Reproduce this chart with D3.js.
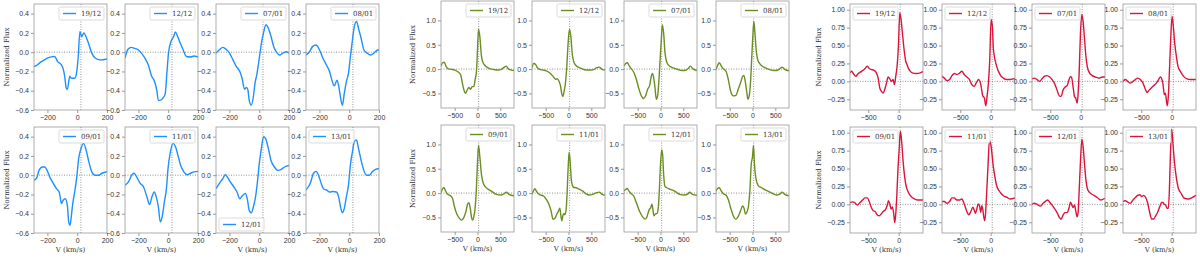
<!DOCTYPE html>
<html>
<head>
<meta charset="utf-8">
<script src="https://cdn.jsdelivr.net/npm/d3@7"></script>
<style>
  body { margin: 0; background: #fff; }
  svg { display: block; font-family: "DejaVu Serif", serif; }
  .tick text { fill: #333; font-size: 7px; }
  .domain, .tick line { stroke: #999; }
  .ylab, .xlab { fill: #333; font-size: 7px; }
  .leg text { fill: #333; font-size: 7px; }
</style>
</head>
<body>
<div id="chart"></div>
<script>
// panel order: top row then bottom row
const dates = ["19/12", "12/12", "07/01", "08/01", "09/01", "11/01", "12/01", "13/01"];

// ---- blue group ----
const blueVel = [
  [-290,-266,-243,-220,-198,-152,-130,-107,-95,-84,-73,-66,-50,-39,-16,-5,7,18,30,45,59,75,98,120,155,200],
  [-290,-270,-248,-225,-202,-180,-157,-134,-111,-95,-77,-66,-55,-32,-20,-9,2,18,36,48,64,82,100,123,150,173,200],
  [-290,-267,-244,-222,-199,-176,-153,-130,-115,-99,-85,-76,-67,-53,-39,-28,-17,-1,15,29,45,61,79,97,116,136,159,182,200],
  [-290,-267,-245,-222,-200,-177,-154,-132,-116,-100,-82,-69,-55,-46,-33,-19,-5,8,22,35,49,65,80,98,121,144,166,189,200],
  [-290,-274,-256,-234,-218,-202,-184,-161,-139,-121,-105,-94,-80,-66,-57,-48,-39,-30,-17,-3,10,26,42,60,78,98,121,144,166,200],
  [-290,-267,-245,-229,-211,-188,-166,-143,-125,-109,-94,-80,-66,-53,-39,-26,-12,-1,15,33,49,65,83,105,128,150,173,200],
  [-290,-267,-244,-228,-213,-194,-171,-149,-130,-115,-92,-80,-67,-53,-39,-23,-12,2,15,29,43,61,79,102,125,148,170,200],
  [-290,-274,-258,-240,-222,-206,-188,-173,-150,-132,-109,-87,-71,-60,-46,-33,-19,-5,8,22,35,49,62,80,98,116,134,155,177,200]
];
const blueFlux = [
  [-0.15,-0.13,-0.10,-0.08,-0.06,-0.045,-0.10,-0.13,-0.17,-0.25,-0.375,-0.385,-0.25,-0.27,-0.27,-0.22,-0.045,0.215,0.16,0.20,0.16,0.095,-0.01,-0.06,-0.08,-0.07],
  [-0.06,0.03,0.05,0.04,0.025,-0.01,-0.06,-0.13,-0.25,-0.29,-0.39,-0.50,-0.50,-0.47,-0.43,-0.22,-0.01,0.11,0.16,0.21,0.16,0.09,0.025,-0.045,-0.05,-0.04,-0.05],
  [-0.01,0.025,0.05,0.03,-0.01,-0.08,-0.15,-0.2,-0.27,-0.385,-0.365,-0.39,-0.50,-0.55,-0.46,-0.32,-0.24,-0.08,0.095,0.2,0.285,0.25,0.165,0.06,0.0,-0.03,-0.01,0.005,-0.01],
  [-0.03,0.005,0.06,0.075,0.025,-0.06,-0.13,-0.2,-0.29,-0.35,-0.29,-0.365,-0.50,-0.55,-0.43,-0.305,-0.22,-0.045,0.13,0.27,0.32,0.23,0.145,0.025,-0.01,-0.03,-0.01,0.02,0.025],
  [-0.05,-0.035,0.05,0.085,0.085,0.05,-0.02,-0.085,-0.14,-0.175,-0.295,-0.26,-0.245,-0.315,-0.485,-0.52,-0.42,-0.295,-0.175,-0.02,0.175,0.28,0.33,0.26,0.14,0.035,0.0,0.0,0.02,0.035],
  [-0.105,-0.07,0.0,0.02,-0.02,-0.085,-0.12,-0.225,-0.305,-0.225,-0.175,-0.225,-0.33,-0.485,-0.42,-0.28,-0.14,0.07,0.245,0.33,0.295,0.21,0.105,0.035,0.005,0.02,0.035,0.04],
  [-0.14,-0.085,-0.035,0.005,-0.02,-0.07,-0.12,-0.175,-0.245,-0.215,-0.19,-0.245,-0.365,-0.39,-0.33,-0.21,-0.07,0.14,0.28,0.4,0.38,0.28,0.155,0.085,0.05,0.06,0.085,0.1],
  [-0.155,-0.12,-0.07,0.02,0.04,0.0,-0.085,-0.14,-0.155,-0.175,-0.17,-0.175,-0.225,-0.315,-0.39,-0.345,-0.225,-0.105,0.105,0.245,0.35,0.365,0.28,0.155,0.05,0.0,0.0,0.035,0.06,0.07]
];
const blueXTicks = [-200, 0, 200];
const blueYTicks = [-0.6, -0.4, -0.2, 0, 0.2, 0.4];

// ---- green group ----
const greenVel = [
  [-800,-764,-727,-691,-640,-567,-495,-422,-371,-327,-291,-262,-226,-189,-153,-117,-80,-51,-22,0,22,51,87,123,182,254,341,451,523,574,633,676,741,800],
  [-800,-764,-720,-684,-633,-560,-487,-415,-342,-284,-247,-211,-175,-146,-124,-95,-66,-37,-8,22,51,80,123,181,276,385,494,567,618,676,734,800],
  [-800,-764,-727,-691,-639,-588,-530,-471,-420,-369,-326,-282,-238,-201,-179,-150,-121,-92,-63,-33,-4,18,40,69,98,142,200,310,419,529,602,653,712,800],
  [-800,-764,-727,-691,-640,-582,-531,-480,-422,-364,-313,-262,-218,-189,-160,-124,-102,-73,-44,-15,7,29,51,80,123,196,305,414,523,596,647,705,800],
  [-800,-764,-735,-698,-655,-604,-546,-509,-458,-400,-349,-298,-255,-218,-189,-160,-131,-109,-80,-51,-29,-8,22,51,87,138,211,305,414,523,596,632,690,800],
  [-800,-764,-735,-705,-647,-596,-545,-487,-429,-378,-342,-298,-255,-218,-189,-167,-146,-124,-102,-80,-51,-29,-8,14,36,65,109,167,240,312,385,458,530,603,676,734,800],
  [-800,-764,-727,-691,-639,-588,-530,-457,-384,-333,-296,-252,-216,-187,-165,-143,-114,-77,-48,-26,-4,25,47,69,98,142,215,310,419,529,602,638,697,800],
  [-800,-764,-727,-691,-640,-582,-531,-480,-422,-364,-306,-262,-218,-189,-153,-117,-88,-58,-29,0,22,44,73,123,196,305,414,523,596,647,705,800]
];
const greenFlux = [
  [0.06,0.13,0.14,0.06,0.005,-0.005,-0.02,-0.06,-0.11,-0.31,-0.45,-0.50,-0.43,-0.38,-0.415,-0.36,-0.36,-0.21,-0.04,0.40,0.82,0.67,0.265,0.13,0.06,0.015,-0.005,-0.02,-0.005,0.03,0.06,0.005,-0.02,-0.03],
  [0.03,0.115,0.095,0.03,-0.005,-0.02,-0.035,-0.075,-0.145,-0.21,-0.2,-0.245,-0.345,-0.515,-0.565,-0.45,-0.28,0.06,0.54,0.82,0.67,0.335,0.13,0.06,0.015,-0.02,-0.02,-0.005,0.03,0.04,-0.005,-0.02],
  [0.06,0.115,0.13,0.075,0.005,-0.06,-0.21,-0.415,-0.55,-0.605,-0.55,-0.415,-0.335,-0.145,-0.09,-0.175,-0.38,-0.62,-0.55,-0.21,0.265,0.605,0.91,0.74,0.335,0.13,0.06,0.015,-0.02,-0.03,0.005,0.06,0.005,-0.03],
  [-0.005,0.075,0.13,0.075,0.005,-0.04,-0.21,-0.45,-0.55,-0.54,-0.415,-0.28,-0.155,-0.13,-0.245,-0.485,-0.62,-0.55,-0.28,0.265,0.675,0.98,0.775,0.40,0.165,0.075,0.015,-0.02,-0.03,0.005,0.04,-0.005,-0.035],
  [0.005,0.09,0.11,0.04,-0.025,-0.045,-0.11,-0.265,-0.42,-0.515,-0.555,-0.5,-0.38,-0.23,-0.195,-0.3,-0.5,-0.555,-0.485,-0.3,0.005,0.445,0.985,0.75,0.38,0.175,0.095,0.04,-0.025,-0.04,-0.005,0.02,-0.025,-0.055],
  [-0.025,0.055,0.09,0.04,-0.025,-0.045,-0.06,-0.13,-0.23,-0.38,-0.535,-0.515,-0.43,-0.365,-0.31,-0.465,-0.57,-0.465,-0.42,-0.445,-0.33,0.04,0.515,0.84,0.65,0.245,0.12,0.11,0.075,0.04,-0.015,-0.04,-0.025,0.005,0.02,-0.025,-0.045],
  [0.04,0.075,0.095,0.04,-0.015,-0.06,-0.195,-0.38,-0.5,-0.535,-0.485,-0.35,-0.3,-0.23,-0.35,-0.465,-0.43,-0.42,-0.3,0.04,0.515,0.885,0.785,0.38,0.14,0.11,0.075,0.04,-0.025,-0.04,-0.015,0.02,-0.025,-0.045],
  [0.04,0.095,0.11,0.055,-0.015,-0.04,-0.13,-0.3,-0.465,-0.535,-0.465,-0.365,-0.265,-0.3,-0.43,-0.38,-0.265,0.04,0.58,0.75,0.985,0.58,0.31,0.16,0.11,0.055,0.005,-0.04,-0.025,0.02,-0.025,-0.055]
];
const greenXTicks = [-500, 0, 500];
const greenYTicks = [-0.5, 0, 0.5, 1.0];

// ---- red group ----
const redVel = [
  [-800,-773,-745,-707,-664,-609,-555,-517,-484,-446,-408,-364,-337,-310,-282,-255,-228,-200,-173,-146,-119,-91,-70,-48,-26,-4,18,39,61,83,116,137,159,192,236,290,345,400],
  [-800,-762,-718,-675,-636,-598,-555,-511,-473,-435,-391,-348,-310,-271,-239,-201,-162,-130,-102,-81,-59,-37,-15,7,28,45,99,154,209,263,318,372,400],
  [-800,-762,-718,-674,-635,-597,-553,-509,-470,-432,-399,-371,-344,-316,-289,-256,-223,-190,-168,-146,-124,-102,-80,-58,-41,-25,-3,20,42,64,86,108,141,190,245,300,355,400],
  [-800,-762,-723,-679,-636,-597,-559,-515,-471,-433,-405,-373,-340,-296,-252,-214,-186,-164,-142,-121,-104,-88,-72,-55,-38,-16,6,27,49,77,104,143,197,252,307,400],
  [-800,-756,-718,-680,-636,-593,-555,-517,-484,-451,-418,-386,-353,-320,-288,-255,-222,-190,-168,-146,-124,-102,-81,-64,-48,-32,-15,7,28,50,72,99,127,159,208,263,317,400],
  [-800,-762,-718,-675,-636,-598,-555,-511,-473,-435,-391,-359,-326,-293,-271,-250,-228,-206,-184,-162,-146,-130,-113,-97,-81,-64,-42,-21,1,45,99,154,209,263,318,400],
  [-800,-762,-718,-663,-619,-575,-542,-509,-470,-432,-388,-355,-322,-289,-256,-223,-190,-168,-146,-124,-102,-80,-58,-41,-25,-3,20,42,64,86,118,163,218,273,328,400],
  [-800,-762,-723,-679,-636,-597,-559,-526,-493,-460,-427,-394,-362,-329,-296,-263,-230,-197,-164,-142,-121,-99,-77,-55,-38,-22,0,22,44,77,110,154,208,279,334,400]
];
const redFlux = [
  [0.115,0.14,0.11,0.07,0.11,0.14,0.175,0.21,0.18,0.165,0.155,0.115,0.045,-0.095,-0.14,-0.165,-0.11,-0.025,0.06,0.035,0.0,0.025,-0.045,0.07,0.21,0.49,0.96,0.865,0.68,0.49,0.28,0.235,0.185,0.14,0.115,0.11,0.115,0.14],
  [0.07,0.045,0.01,0.025,0.08,0.11,0.095,0.115,0.14,0.095,0.06,0.025,-0.045,-0.07,-0.025,0.025,-0.045,-0.2,-0.235,-0.34,-0.21,-0.025,0.305,0.865,0.77,0.445,0.21,0.095,0.045,0.025,0.025,0.035,0.04],
  [0.035,0.045,0.025,0.0,0.035,0.07,0.08,0.06,0.025,-0.025,-0.095,-0.165,-0.21,-0.2,-0.12,-0.08,-0.06,0.025,0.07,0.045,-0.08,-0.21,-0.235,-0.305,-0.165,0.115,0.68,0.935,0.82,0.585,0.35,0.21,0.125,0.08,0.06,0.045,0.06,0.06],
  [0.0,0.025,0.0,-0.025,0.0,0.025,0.045,0.025,-0.025,-0.11,-0.155,-0.125,-0.095,-0.06,-0.025,0.025,0.06,0.035,-0.045,-0.185,-0.165,-0.255,-0.34,-0.21,0.115,0.585,0.91,0.77,0.54,0.35,0.21,0.14,0.07,0.035,0.025,0.025],
  [0.025,0.035,0.02,-0.01,0.025,0.06,0.09,0.09,0.04,-0.04,-0.09,-0.1,-0.145,-0.16,-0.135,-0.1,-0.08,-0.02,0.05,0.005,-0.065,-0.035,-0.135,-0.255,-0.135,0.1,0.425,0.75,1.02,0.87,0.61,0.38,0.24,0.17,0.105,0.075,0.06,0.06],
  [0.04,0.04,0.015,0.04,0.09,0.09,0.06,0.06,0.075,0.005,-0.1,-0.145,-0.1,-0.04,-0.08,-0.125,-0.065,0.005,-0.02,-0.11,-0.02,-0.065,-0.18,-0.23,-0.09,0.19,0.565,0.89,0.845,0.52,0.26,0.17,0.12,0.1,0.075,0.09],
  [0.0,0.015,0.0,-0.025,0.015,0.045,0.06,0.03,-0.01,-0.055,-0.115,-0.175,-0.21,-0.15,-0.115,-0.115,-0.045,0.03,-0.01,-0.045,-0.01,-0.095,-0.175,-0.105,0.18,0.605,0.91,0.79,0.555,0.345,0.2,0.155,0.125,0.095,0.06,0.085],
  [0.04,0.05,0.03,0.015,0.06,0.095,0.125,0.135,0.11,0.125,0.095,0.015,-0.11,-0.205,-0.205,-0.16,-0.11,-0.035,0.025,0.025,0.0,-0.01,-0.055,-0.055,0.18,0.65,1.05,0.84,0.605,0.37,0.225,0.155,0.085,0.075,0.095,0.125]
];
const redXTicks = [-500, 0];
const redYTicks = [-0.25, 0, 0.25, 0.5, 0.75, 1.0];

const vSys = 25; // dotted vertical marker (km/s)

const groups = [
  { vel: blueVel, flux: blueFlux, color: "#1E90FF", xDom: [-290, 200], yDom: [-0.6, 0.5],
    xTicks: blueXTicks, yTicks: blueYTicks, yFmt: ".1f",
    lefts: [34, 125, 216, 306], tops: [4, 127], h: 106, ylabX: 9,
    legend: ["ur", "ur", "ur", "ur", "ur", "ur", "ll", "ul"] },
  { vel: greenVel, flux: greenFlux, color: "#6B8E23", xDom: [-800, 800], yDom: [-0.8, 1.4],
    xTicks: greenXTicks, yTicks: greenYTicks, yFmt: ".1f",
    lefts: [441, 532, 624, 716], tops: [1, 125], h: 107, ylabX: 415,
    legend: ["ur", "ur", "ur", "ur", "ur", "ur", "ur", "ur"] },
  { vel: redVel, flux: redFlux, color: "#DC143C", xDom: [-800, 400], yDom: [-0.4, 1.08],
    xTicks: redXTicks, yTicks: redYTicks, yFmt: ".2f",
    lefts: [850, 942, 1032, 1123], tops: [4, 127], h: 106, ylabX: 821,
    legend: ["ul", "ul", "ul", "ul", "ul", "ul", "ul", "ul"] }
];

const W = 1200, H = 258, pw = 73;

const svg = d3.select("#chart").append("svg")
  .attr("width", W)
  .attr("height", H);

groups.forEach((g, gi) => {
  g.tops.forEach((top, row) => {
    svg.append("text")
      .attr("class", "ylab")
      .attr("text-anchor", "middle")
      .attr("transform", `translate(${g.ylabX},${top + g.h / 2}) rotate(-90)`)
      .text("Normalized Flux");
  });

  dates.forEach((date, i) => {
    const row = Math.floor(i / 4), col = i % 4;
    const left = g.lefts[col], top = g.tops[row];

    const x = d3.scaleLinear().domain(g.xDom).range([0, pw]);
    const y = d3.scaleLinear().domain(g.yDom).range([g.h, 0]);

    const p = svg.append("g").attr("transform", `translate(${left},${top})`);
    const clipId = `clip-${gi}-${i}`;
    p.append("clipPath").attr("id", clipId)
      .append("rect").attr("width", pw).attr("height", g.h);

    // reference lines
    p.append("line")
      .attr("x1", 0).attr("x2", pw)
      .attr("y1", y(0)).attr("y2", y(0))
      .attr("stroke", "#666").attr("stroke-width", 0.7)
      .attr("stroke-dasharray", "1,1.5");
    p.append("line")
      .attr("x1", x(vSys)).attr("x2", x(vSys))
      .attr("y1", 0).attr("y2", g.h)
      .attr("stroke", "#666").attr("stroke-width", 0.7)
      .attr("stroke-dasharray", "1,1.5");

    const pts = g.vel[i].map((v, k) => [v, g.flux[i][k]]);
    const line = d3.line().x(d => x(d[0])).y(d => y(d[1])).curve(d3.curveMonotoneX);

    p.append("path")
      .datum(pts)
      .attr("clip-path", `url(#${clipId})`)
      .attr("fill", "none")
      .attr("stroke", g.color)
      .attr("stroke-width", 1.4)
      .attr("stroke-linejoin", "round")
      .attr("d", line);

    // frame
    p.append("rect")
      .attr("width", pw).attr("height", g.h)
      .attr("fill", "none").attr("stroke", "#999").attr("stroke-width", 0.8);

    p.append("g")
      .attr("transform", `translate(0,${g.h})`)
      .call(d3.axisBottom(x).tickValues(g.xTicks).tickSize(3).tickPadding(2).tickFormat(d3.format("d")))
      .call(a => a.select(".domain").remove());

    p.append("g")
      .call(d3.axisLeft(y).tickValues(g.yTicks).tickSize(3).tickPadding(2).tickFormat(d3.format(g.yFmt)))
      .call(a => a.select(".domain").remove());

    if (row === 1) {
      p.append("text")
        .attr("class", "xlab")
        .attr("x", pw / 2).attr("y", g.h + 19)
        .attr("text-anchor", "middle")
        .text("V (km/s)");
    }

    // legend
    const lw = 45, lh = 13;
    const pos = g.legend[i];
    const lx = pos === "ur" ? pw - lw - 3 : 3;
    const ly = pos === "ll" ? g.h - lh - 2 : 3;
    const leg = p.append("g").attr("class", "leg").attr("transform", `translate(${lx},${ly})`);
    leg.append("rect")
      .attr("width", lw).attr("height", lh).attr("rx", 1.5)
      .attr("fill", "#fff").attr("fill-opacity", 0.85)
      .attr("stroke", "#ccc").attr("stroke-width", 0.7);
    leg.append("line")
      .attr("x1", 4).attr("x2", 17)
      .attr("y1", lh / 2).attr("y2", lh / 2)
      .attr("stroke", g.color).attr("stroke-width", 1.4);
    leg.append("text")
      .attr("x", 22).attr("y", lh / 2 + 2.5)
      .text(date);
  });
});
</script>
</body>
</html>
